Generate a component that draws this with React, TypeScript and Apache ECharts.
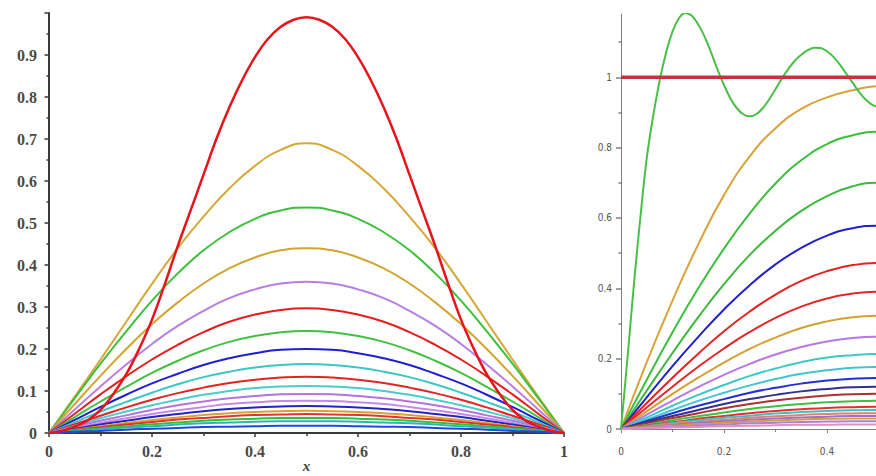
import React, { useEffect, useRef } from "react";
import * as echarts from "echarts";

// ---------- Left panel ----------
const leftInitialX = [
  0, 0.025, 0.05, 0.075, 0.1, 0.125, 0.15, 0.175, 0.2, 0.225, 0.25, 0.275, 0.3, 0.325, 0.35, 0.375, 0.4,
  0.425, 0.45, 0.475, 0.5, 0.525, 0.55, 0.575, 0.6, 0.625, 0.65, 0.675, 0.7, 0.725, 0.75, 0.775, 0.8,
  0.825, 0.85, 0.875, 0.9, 0.925, 0.95, 0.975, 1,
];
const leftInitial = [
  0, 0.005, 0.015, 0.03, 0.055, 0.093, 0.14, 0.2, 0.27, 0.355, 0.445, 0.53, 0.615, 0.7, 0.775, 0.84, 0.895,
  0.938, 0.967, 0.984, 0.99, 0.984, 0.967, 0.938, 0.895, 0.84, 0.775, 0.7, 0.615, 0.53, 0.445, 0.355, 0.27,
  0.2, 0.14, 0.093, 0.055, 0.03, 0.015, 0.005, 0,
];

const leftX = [0, 0.05, 0.1, 0.15, 0.2, 0.25, 0.3, 0.35, 0.4, 0.45, 0.5, 0.55, 0.6, 0.65, 0.7, 0.75, 0.8, 0.85, 0.9, 0.95, 1];
const leftCurves = [
  [0, 0.087, 0.175, 0.265, 0.355, 0.44, 0.515, 0.582, 0.636, 0.674, 0.69, 0.674, 0.636, 0.582, 0.515, 0.44, 0.355, 0.265, 0.175, 0.087, 0],
  [0, 0.083, 0.165, 0.242, 0.315, 0.38, 0.435, 0.478, 0.51, 0.53, 0.537, 0.53, 0.51, 0.478, 0.435, 0.38, 0.315, 0.242, 0.165, 0.083, 0],
  [0, 0.069, 0.136, 0.2, 0.259, 0.311, 0.356, 0.392, 0.418, 0.435, 0.44, 0.435, 0.418, 0.392, 0.356, 0.311, 0.259, 0.2, 0.136, 0.069, 0],
  [0, 0.056, 0.111, 0.163, 0.212, 0.255, 0.291, 0.321, 0.342, 0.356, 0.36, 0.356, 0.342, 0.321, 0.291, 0.255, 0.212, 0.163, 0.111, 0.056, 0],
  [0, 0.046, 0.092, 0.135, 0.175, 0.21, 0.24, 0.265, 0.282, 0.293, 0.297, 0.293, 0.282, 0.265, 0.24, 0.21, 0.175, 0.135, 0.092, 0.046, 0],
  [0, 0.038, 0.075, 0.11, 0.143, 0.172, 0.197, 0.217, 0.231, 0.24, 0.243, 0.24, 0.231, 0.217, 0.197, 0.172, 0.143, 0.11, 0.075, 0.038, 0],
  [0, 0.031, 0.062, 0.091, 0.118, 0.141, 0.162, 0.178, 0.19, 0.198, 0.2, 0.198, 0.19, 0.178, 0.162, 0.141, 0.118, 0.091, 0.062, 0.031, 0],
  [0, 0.026, 0.051, 0.074, 0.096, 0.116, 0.133, 0.146, 0.156, 0.162, 0.164, 0.162, 0.156, 0.146, 0.133, 0.116, 0.096, 0.074, 0.051, 0.026, 0],
  [0, 0.021, 0.041, 0.061, 0.079, 0.095, 0.108, 0.119, 0.127, 0.132, 0.134, 0.132, 0.127, 0.119, 0.108, 0.095, 0.079, 0.061, 0.041, 0.021, 0],
  [0, 0.017, 0.035, 0.051, 0.066, 0.079, 0.091, 0.1, 0.107, 0.111, 0.112, 0.111, 0.107, 0.1, 0.091, 0.079, 0.066, 0.051, 0.035, 0.017, 0],
  [0, 0.015, 0.029, 0.042, 0.055, 0.066, 0.075, 0.083, 0.088, 0.092, 0.093, 0.092, 0.088, 0.083, 0.075, 0.066, 0.055, 0.042, 0.029, 0.015, 0],
  [0, 0.012, 0.024, 0.035, 0.045, 0.054, 0.062, 0.069, 0.073, 0.076, 0.077, 0.076, 0.073, 0.069, 0.062, 0.054, 0.045, 0.035, 0.024, 0.012, 0],
  [0, 0.01, 0.02, 0.029, 0.038, 0.045, 0.052, 0.057, 0.061, 0.063, 0.064, 0.063, 0.061, 0.057, 0.052, 0.045, 0.038, 0.029, 0.02, 0.01, 0],
  [0, 0.008, 0.016, 0.024, 0.031, 0.037, 0.043, 0.047, 0.05, 0.052, 0.053, 0.052, 0.05, 0.047, 0.043, 0.037, 0.031, 0.024, 0.016, 0.008, 0],
  [0, 0.007, 0.014, 0.02, 0.026, 0.032, 0.036, 0.04, 0.043, 0.044, 0.045, 0.044, 0.043, 0.04, 0.036, 0.032, 0.026, 0.02, 0.014, 0.007, 0],
  [0, 0.006, 0.011, 0.016, 0.021, 0.025, 0.029, 0.032, 0.034, 0.036, 0.036, 0.036, 0.034, 0.032, 0.029, 0.025, 0.021, 0.016, 0.011, 0.006, 0],
  [0, 0.004, 0.009, 0.013, 0.016, 0.02, 0.023, 0.025, 0.027, 0.028, 0.028, 0.028, 0.027, 0.025, 0.023, 0.02, 0.016, 0.013, 0.009, 0.004, 0],
  [0, 0.003, 0.005, 0.008, 0.01, 0.012, 0.014, 0.015, 0.016, 0.017, 0.017, 0.017, 0.016, 0.015, 0.014, 0.012, 0.01, 0.008, 0.005, 0.003, 0],
];
const leftColors = [
  "#d6a838", "#3cc03c", "#d4a430", "#b87ee2", "#e41e1e", "#42c042", "#1e1ed2", "#3cc6c6",
  "#e02424", "#48cccc", "#b474de", "#c48ae6", "#2424c0", "#dca030", "#e03434", "#34c034",
  "#30b4b4", "#2048e0",
];
const leftInitialColor = "#e8141c";

// ---------- Right panel ----------
const rightX = [0, 0.05, 0.1, 0.15, 0.2, 0.25, 0.3, 0.35, 0.4, 0.45, 0.5, 0.55];
const rightCurves = [
  [0, 0.19, 0.365, 0.525, 0.665, 0.775, 0.855, 0.91, 0.943, 0.963, 0.975, 0.963],
  [0, 0.14, 0.275, 0.4, 0.513, 0.613, 0.698, 0.764, 0.81, 0.835, 0.845, 0.835],
  [0, 0.109, 0.216, 0.318, 0.412, 0.495, 0.564, 0.62, 0.662, 0.69, 0.7, 0.69],
  [0, 0.09, 0.179, 0.262, 0.34, 0.409, 0.468, 0.515, 0.55, 0.571, 0.578, 0.571],
  [0, 0.074, 0.146, 0.214, 0.278, 0.334, 0.382, 0.421, 0.449, 0.466, 0.472, 0.466],
  [0, 0.061, 0.12, 0.177, 0.229, 0.276, 0.316, 0.348, 0.371, 0.385, 0.39, 0.385],
  [0, 0.05, 0.1, 0.146, 0.189, 0.228, 0.26, 0.287, 0.306, 0.318, 0.322, 0.318],
  [0, 0.041, 0.081, 0.119, 0.154, 0.185, 0.212, 0.233, 0.249, 0.259, 0.262, 0.259],
  [0, 0.033, 0.066, 0.097, 0.125, 0.151, 0.172, 0.19, 0.203, 0.21, 0.213, 0.21],
  [0, 0.027, 0.054, 0.08, 0.103, 0.124, 0.142, 0.157, 0.167, 0.174, 0.176, 0.174],
  [0, 0.023, 0.045, 0.066, 0.085, 0.103, 0.117, 0.129, 0.138, 0.143, 0.145, 0.143],
  [0, 0.019, 0.037, 0.054, 0.071, 0.085, 0.097, 0.107, 0.114, 0.119, 0.12, 0.119],
  [0, 0.016, 0.031, 0.045, 0.059, 0.071, 0.081, 0.089, 0.095, 0.099, 0.1, 0.099],
  [0, 0.012, 0.025, 0.036, 0.047, 0.057, 0.065, 0.071, 0.076, 0.079, 0.08, 0.079],
  [0, 0.01, 0.019, 0.029, 0.037, 0.045, 0.051, 0.056, 0.06, 0.062, 0.063, 0.062],
  [0, 0.008, 0.017, 0.025, 0.032, 0.038, 0.044, 0.048, 0.051, 0.053, 0.054, 0.053],
  [0, 0.007, 0.014, 0.02, 0.026, 0.032, 0.036, 0.04, 0.043, 0.044, 0.045, 0.044],
  [0, 0.006, 0.011, 0.017, 0.022, 0.026, 0.03, 0.033, 0.035, 0.037, 0.037, 0.037],
  [0, 0.005, 0.009, 0.014, 0.018, 0.021, 0.024, 0.027, 0.029, 0.03, 0.03, 0.03],
  [0, 0.003, 0.007, 0.01, 0.013, 0.016, 0.018, 0.02, 0.021, 0.022, 0.022, 0.022],
  [0, 0.002, 0.004, 0.006, 0.008, 0.009, 0.011, 0.012, 0.012, 0.013, 0.013, 0.013],
];
const rightColors = [
  "#d9a33a", "#3cc03c", "#3cb83c", "#2020d0", "#e82020", "#e02828", "#d4a030", "#b878e0",
  "#40c8c8", "#44c4d0", "#2030d8", "#303090", "#b03030", "#40c040", "#e03030", "#40c0c0",
  "#e08070", "#a070d0", "#d0a040", "#b080d0", "#e090c0",
];

const gibbsX = [
  0, 0.0125, 0.025, 0.0375, 0.05, 0.0625, 0.075, 0.0875, 0.1, 0.1125, 0.125, 0.1375, 0.15,
  0.1625, 0.175, 0.1875, 0.2, 0.2125, 0.225, 0.2375, 0.25, 0.2625, 0.275, 0.2875, 0.3, 0.3125,
  0.325, 0.3375, 0.35, 0.3625, 0.375, 0.3875, 0.4, 0.4125, 0.425, 0.4375, 0.45, 0.4625, 0.475,
  0.4875, 0.5, 0.5125, 0.525, 0.55,
];
const gibbsY = [
  0, 0.2, 0.41, 0.6, 0.77, 0.89, 0.99, 1.07, 1.13, 1.168, 1.183, 1.175, 1.15,
  1.115, 1.07, 1.022, 0.978, 0.94, 0.912, 0.895, 0.889, 0.895, 0.912, 0.937, 0.966, 0.997,
  1.024, 1.047, 1.064, 1.077, 1.084, 1.083, 1.074, 1.058, 1.036, 1.01, 0.984, 0.958, 0.937,
  0.922, 0.916, 0.922, 0.937, 0.984,
];
const gibbsColor = "#48c048";

const constX = [0, 0.55];
const constY = [1, 1];
const constColor = "#c8323e";

const leftYTicks = [0, 0.1, 0.2, 0.3, 0.4, 0.5, 0.6, 0.7, 0.8, 0.9];
const rightXLabels = [0, 0.2, 0.4];
const rightYMajor = [0, 0.2, 0.4, 0.6, 0.8, 1];
const rightYMinor = [0.1, 0.3, 0.5, 0.7, 0.9, 1.1];

const pairs = (xs: number[], ys: number[]) => xs.map((x, i) => [x, ys[i]]);
const inList = (list: number[], v: number) => list.some((t) => Math.abs(t - v) < 1e-6);

function buildOption() {
  const serif = "'Liberation Serif', 'DejaVu Serif', serif";
  const sans = "'DejaVu Sans Condensed', 'Liberation Sans', sans-serif";
  const series: any[] = [];
  const lineBase = { type: "line", showSymbol: false, smooth: true, silent: true, animation: false };

  leftCurves.forEach((c, i) => {
    series.push({
      ...lineBase,
      xAxisIndex: 0,
      yAxisIndex: 0,
      data: pairs(leftX, c),
      lineStyle: { color: leftColors[i], width: 2 },
      z: 3,
    });
  });
  series.push({
    ...lineBase,
    smooth: 0.4,
    xAxisIndex: 0,
    yAxisIndex: 0,
    data: pairs(leftInitialX, leftInitial),
    lineStyle: { color: leftInitialColor, width: 2.5 },
    z: 5,
  });

  rightCurves.forEach((c, i) => {
    series.push({
      ...lineBase,
      xAxisIndex: 1,
      yAxisIndex: 1,
      data: pairs(rightX, c),
      lineStyle: { color: rightColors[i], width: 2 },
      z: 3,
    });
  });
  series.push({
    ...lineBase,
    smooth: 0.4,
    xAxisIndex: 1,
    yAxisIndex: 1,
    data: pairs(gibbsX, gibbsY),
    lineStyle: { color: gibbsColor, width: 2 },
    z: 4,
  });
  series.push({
    ...lineBase,
    smooth: false,
    xAxisIndex: 1,
    yAxisIndex: 1,
    data: pairs(constX, constY),
    lineStyle: { color: constColor, width: 3.5 },
    z: 5,
  });

  const gridBase = { outerBoundsMode: "none", containLabel: false };

  return {
    animation: false,
    backgroundColor: "#ffffff",
    grid: [
      { ...gridBase, left: 49, top: 13, width: 515, height: 420 },
      { ...gridBase, left: 621, top: 14, width: 515, height: 415 },
      { ...gridBase, left: 621, top: 14, width: 515, height: 415 },
    ],
    xAxis: [
      {
        type: "value",
        gridIndex: 0,
        min: 0,
        max: 1,
        interval: 0.2,
        axisLine: { lineStyle: { color: "#3a3a3a", width: 2 } },
        axisTick: { length: 4, lineStyle: { color: "#3a3a3a", width: 1.5 } },
        minorTick: { show: true, splitNumber: 2, length: 3, lineStyle: { color: "#3a3a3a", width: 1.5 } },
        splitLine: { show: false },
        axisLabel: {
          margin: 10,
          fontFamily: serif,
          fontSize: 16,
          fontWeight: "bold",
          color: "#4a4a4a",
          formatter: (v: number) => String(v),
        },
        name: "x",
        nameLocation: "middle",
        nameGap: 25,
        nameMoveOverlap: false,
        nameTextStyle: { fontFamily: serif, fontStyle: "italic", fontWeight: "bold", fontSize: 15, color: "#444" },
      },
      {
        type: "value",
        gridIndex: 1,
        min: 0,
        max: 1,
        interval: 0.2,
        axisLine: { lineStyle: { color: "#808080", width: 1 } },
        axisTick: { length: 4, lineStyle: { color: "#808080", width: 1 } },
        minorTick: { show: true, splitNumber: 2, length: 3, lineStyle: { color: "#808080", width: 1 } },
        splitLine: { show: false },
        axisLabel: {
          margin: 17,
          fontFamily: sans,
          fontSize: 10,
          color: "#555",
          formatter: (v: number) => (inList(rightXLabels, v) ? String(v) : ""),
        },
      },
      { type: "value", gridIndex: 2, min: 0, max: 1, show: false },
    ],
    yAxis: [
      {
        type: "value",
        gridIndex: 0,
        min: 0,
        max: 1,
        interval: 0.1,
        axisLine: { lineStyle: { color: "#3a3a3a", width: 2 } },
        axisTick: { length: 4.5, lineStyle: { color: "#3a3a3a", width: 1.5 } },
        minorTick: { show: true, splitNumber: 2, length: 2.5, lineStyle: { color: "#3a3a3a", width: 1.5 } },
        splitLine: { show: false },
        axisLabel: {
          margin: 12,
          fontFamily: serif,
          fontSize: 16,
          fontWeight: "bold",
          color: "#4a4a4a",
          formatter: (v: number) => (inList(leftYTicks, v) ? String(Math.round(v * 10) / 10) : ""),
        },
      },
      {
        type: "value",
        gridIndex: 1,
        min: 0,
        max: 1.18,
        interval: 0.2,
        axisLine: { lineStyle: { color: "#808080", width: 1 } },
        axisTick: { length: 5, customValues: rightYMajor, lineStyle: { color: "#808080", width: 1.5 } },
        splitLine: { show: false },
        axisLabel: {
          margin: 9,
          fontFamily: sans,
          fontSize: 10,
          color: "#555",
          customValues: rightYMajor,
          formatter: (v: number) => (inList(rightYMajor, v) ? String(Math.round(v * 10) / 10) : ""),
        },
      },
      {
        type: "value",
        gridIndex: 2,
        min: 0,
        max: 1.18,
        axisLine: { show: false },
        axisTick: { length: 2.5, customValues: rightYMinor, lineStyle: { color: "#808080", width: 1.5 } },
        axisLabel: { show: false },
        splitLine: { show: false },
      },
    ],
    series,
  };
}

export default function App() {
  const ref = useRef<HTMLDivElement>(null);
  useEffect(() => {
    document.body.style.margin = "0";
    const chart = echarts.init(ref.current!, undefined, { renderer: "svg" });
    chart.setOption(buildOption() as any);
    return () => chart.dispose();
  }, []);
  return <div ref={ref} style={{ width: 876, height: 476 }} />;
}
